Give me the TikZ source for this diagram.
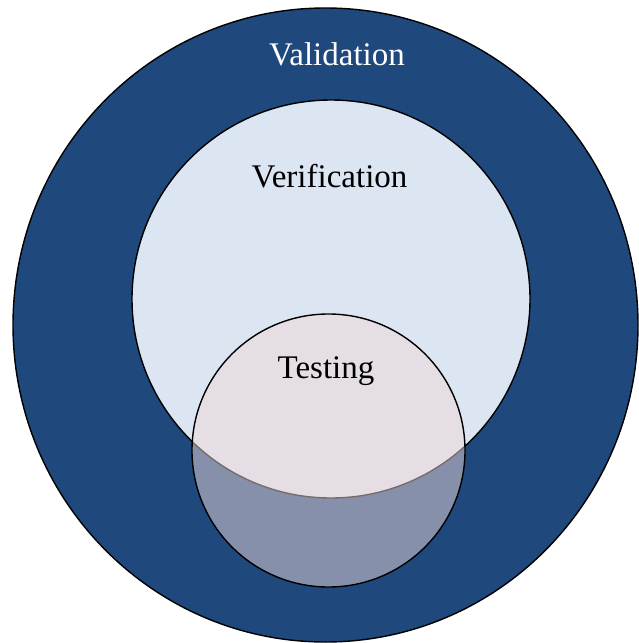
\documentclass[tikz,border=0pt]{standalone}
\usepackage{fontspec}
\setmainfont{Liberation Serif}
\definecolor{outerblue}{RGB}{31,73,125}
\definecolor{paleblue}{RGB}{220,230,242}
\definecolor{testfill}{RGB}{238,216,216}
\tikzset{
  ring/.style={draw=black, line width=1.4pt},
  lbl/.style={font=\fontsize{33}{38}\selectfont, inner sep=0pt, anchor=base}
}
\begin{document}
\begin{tikzpicture}[x=1pt, y=-1pt]
  \useasboundingbox (0,0) rectangle (639,643);
  % Validation: outer disc
  \draw[ring, fill=outerblue] (325.5,325) ellipse [x radius=312.5, y radius=317];
  % Verification: inner disc
  \draw[ring, fill=paleblue] (331,299) circle [radius=199];
  % Testing: translucent disc over both
  \draw[ring, fill=testfill, fill opacity=0.5] (328.5,450.5) circle [radius=136.5];
  \node[lbl, text=white] (validation) at (337,65) {Validation};
  \node[lbl] (verification) at (329.5,187) {Verification};
  \node[lbl] (testing) at (326,378) {Testing};
\end{tikzpicture}
\end{document}
